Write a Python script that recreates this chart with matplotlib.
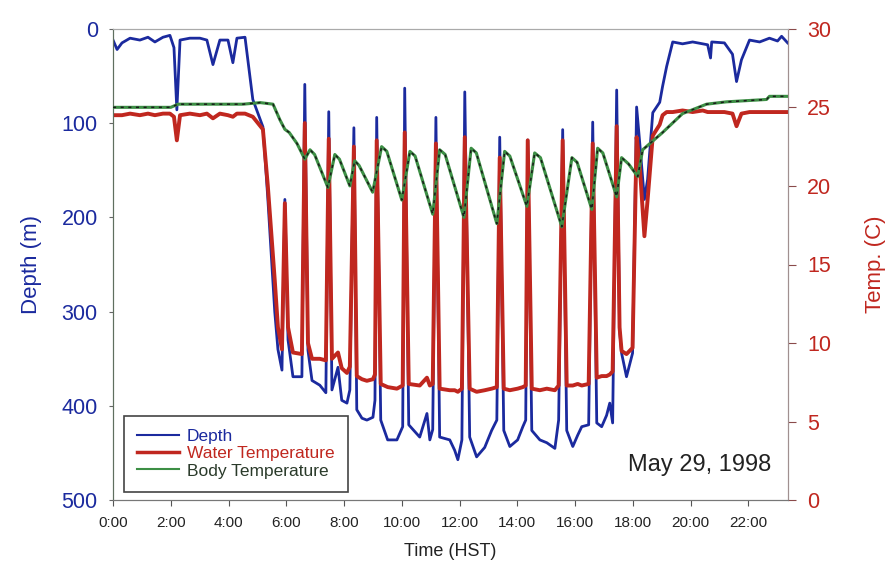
import matplotlib
matplotlib.use("Agg")
import matplotlib.pyplot as plt
from matplotlib.lines import Line2D

plt.rcParams["font.family"] = ["Liberation Sans", "DejaVu Sans"]

# depth / water temperature record, hours since midnight (HST)
time_h = [0.00, 0.14, 0.31, 0.59, 0.93, 1.21, 1.45, 1.73, 1.97, 2.11, 2.21, 2.32,
          2.66, 3.01, 3.25, 3.46, 3.70, 3.98, 4.15, 4.29, 4.57, 4.84, 5.19, 5.36,
          5.60, 5.71, 5.85, 5.95, 6.06, 6.23, 6.54, 6.64, 6.75, 6.89, 7.16, 7.37,
          7.47, 7.58, 7.79, 7.92, 8.10, 8.20, 8.34, 8.44, 8.62, 8.79, 9.00, 9.07,
          9.13, 9.27, 9.51, 9.83, 10.03, 10.10, 10.24, 10.62, 10.87, 10.97, 11.07,
          11.18, 11.31, 11.66, 11.83, 11.94, 12.08, 12.18, 12.35, 12.59, 12.87,
          13.11, 13.29, 13.39, 13.53, 13.74, 14.01, 14.19, 14.29, 14.36, 14.50,
          14.78, 15.02, 15.30, 15.43, 15.57, 15.71, 15.92, 16.09, 16.23, 16.47,
          16.61, 16.75, 16.92, 17.09, 17.20, 17.30, 17.44, 17.54, 17.61, 17.78,
          17.99, 18.13, 18.23, 18.40, 18.51, 18.69, 18.93, 19.03, 19.17, 19.38,
          19.72, 20.07, 20.42, 20.59, 20.69, 20.73, 21.17, 21.45, 21.59, 21.76,
          22.04, 22.39, 22.73, 23.01, 23.15, 23.36]
depth_m = [12, 22, 15, 10, 12, 9, 14, 9, 7, 20, 86, 12,
           10, 10, 12, 38, 12, 12, 36, 10, 9, 75, 104, 180,
           300, 340, 362, 181, 330, 369, 369, 59, 341, 373, 378, 386,
           88, 383, 359, 394, 397, 383, 105, 404, 413, 415, 412, 394,
           94, 415, 436, 436, 422, 63, 420, 433, 408, 436, 425,
           94, 433, 436, 447, 457, 436, 67, 433, 454, 444, 426,
           415, 115, 426, 443, 436, 422, 415, 118, 426, 436, 439,
           445, 415, 107, 426, 443, 431, 422, 420, 99, 418, 422,
           410, 397, 418, 65, 320, 344, 369, 344, 83, 118, 181, 160,
           89, 78, 61, 40, 14, 16, 14, 16, 17, 31, 14, 15, 27, 56,
           33, 12, 14, 10, 13, 8, 15]
water_c = [24.5, 24.5, 24.5, 24.6, 24.5, 24.6, 24.5, 24.6, 24.6, 24.4, 22.9, 24.5,
           24.6, 24.5, 24.6, 24.3, 24.6, 24.5, 24.4, 24.6, 24.6, 24.4, 23.6, 20.0,
           14.0, 11.0, 9.6, 18.9, 11.0, 9.4, 9.3, 24.0, 10.0, 9.0, 9.0, 8.9,
           23.0, 9.0, 9.4, 8.4, 8.1, 8.5, 22.5, 7.9, 7.7, 7.6, 7.7, 8.0,
           22.9, 7.4, 7.2, 7.1, 7.3, 23.4, 7.4, 7.3, 7.8, 7.3, 7.4,
           22.7, 7.1, 7.0, 7.0, 6.9, 7.1, 23.1, 7.1, 6.9, 7.0, 7.1,
           7.2, 21.8, 7.1, 7.0, 7.1, 7.2, 7.3, 22.9, 7.1, 7.0, 7.1,
           7.0, 7.3, 22.9, 7.3, 7.3, 7.4, 7.3, 7.4, 22.7, 7.8, 7.9,
           7.9, 8.0, 8.2, 23.8, 11.0, 9.5, 9.3, 9.7, 23.1, 21.5, 16.8, 19.1,
           23.2, 23.9, 24.5, 24.7, 24.7, 24.8, 24.7, 24.8, 24.7, 24.7, 24.7, 24.7, 24.6, 23.8,
           24.6, 24.7, 24.7, 24.7, 24.7, 24.7, 24.7]

# body temperature record
body_h = [0.00, 1.00, 2.00, 2.25, 3.50, 4.50, 5.10, 5.54, 5.78, 5.95, 6.10, 6.37,
          6.64, 6.82, 6.98, 7.44, 7.68, 7.84, 8.20, 8.37, 8.52, 8.99, 9.30, 9.48,
          10.00, 10.28, 10.46, 11.07, 11.31, 11.50, 12.15, 12.40, 12.58, 13.29,
          13.56, 13.74, 14.33, 14.60, 14.80, 15.54, 15.89, 16.07, 16.58, 16.78,
          16.96, 17.44, 17.61, 17.85, 18.17, 18.34, 19.03, 19.72, 20.55, 21.24,
          22.63, 22.73, 23.36]
body_c = [25.0, 25.0, 25.0, 25.2, 25.2, 25.2, 25.3, 25.2, 24.2, 23.6, 23.4, 22.7,
          21.7, 22.3, 22.0, 19.9, 22.0, 21.7, 20.0, 21.6, 21.3, 19.6, 22.5, 22.2,
          19.1, 22.2, 21.9, 18.2, 22.3, 22.0, 18.0, 22.4, 22.1, 17.6,
          22.2, 21.9, 18.7, 22.1, 21.8, 17.4, 21.8, 21.5, 18.5, 22.4,
          22.1, 19.3, 21.8, 21.4, 20.6, 22.3, 23.4, 24.6, 25.2, 25.35,
          25.5, 25.7, 25.7]

blue = "#1b2a9e"
red = "#c0271f"
green = "#3d8f45"

fig = plt.figure(figsize=(8.9, 5.75), dpi=100)
ax = fig.add_axes([0.127, 0.130, 0.758, 0.820])
ax2 = ax.twinx()

ax2.plot(body_h, body_c, color=green, lw=2.2, zorder=3)
ax2.plot(body_h, body_c, color="#1a1a1a", lw=1.1, dashes=(2, 3), zorder=4)
ax2.plot(time_h, water_c, color=red, lw=2.8, zorder=2)
ax.plot(time_h, depth_m, color=blue, lw=2.0)

ax.set_xlim(0, 23.36)
ax.set_ylim(500, 0)
ax2.set_ylim(0, 30)

ax.set_xticks(range(0, 23, 2))
ax.set_xticklabels([f"{h}:00" for h in range(0, 23, 2)], fontsize=11, color="#222222")
ax.set_yticks([0, 100, 200, 300, 400, 500])
ax.tick_params(axis="y", labelsize=15.5, labelcolor=blue, length=3, pad=8, color="#666666")
ax.tick_params(axis="x", length=4, pad=7, color="#555555")
ax2.set_yticks([0, 5, 10, 15, 20, 25, 30])
ax2.tick_params(axis="y", labelsize=15.5, labelcolor=red, length=6, pad=8, color="#8a4a4a")

ax.set_xlabel("Time (HST)", fontsize=13, color="#222222", labelpad=10)
ax.set_ylabel("Depth (m)", fontsize=16, color=blue, labelpad=14)
ax2.set_ylabel("Temp. (C)", fontsize=16, color=red, labelpad=24)

for a in (ax, ax2):
    a.spines["top"].set_color("#aaaaaa")
    a.spines["bottom"].set_color("#777777")
    a.spines["left"].set_color("#5f6f5f")
    a.spines["right"].set_color("#a09090")

handles = [Line2D([], [], color=blue, lw=1.5),
           Line2D([], [], color=red, lw=2.5),
           Line2D([], [], color=green, lw=1.5)]
leg = ax2.legend(handles, ["Depth", "Water Temperature", "Body Temperature"],
                 loc="lower left", bbox_to_anchor=(0.004, 0.0), fontsize=12.5,
                 fancybox=False, framealpha=1, edgecolor="#444444",
                 handlelength=2.4, handletextpad=0.45, borderpad=0.75,
                 labelspacing=0.12)
leg.get_frame().set_linewidth(1.2)
for txt, c in zip(leg.get_texts(), [blue, red, "#2a3a2a"]):
    txt.set_color(c)

ax.text(0.975, 0.075, "May 29, 1998", transform=ax.transAxes, ha="right",
        va="center", fontsize=17, color="#222222")

fig.savefig("out.png", dpi=100)
